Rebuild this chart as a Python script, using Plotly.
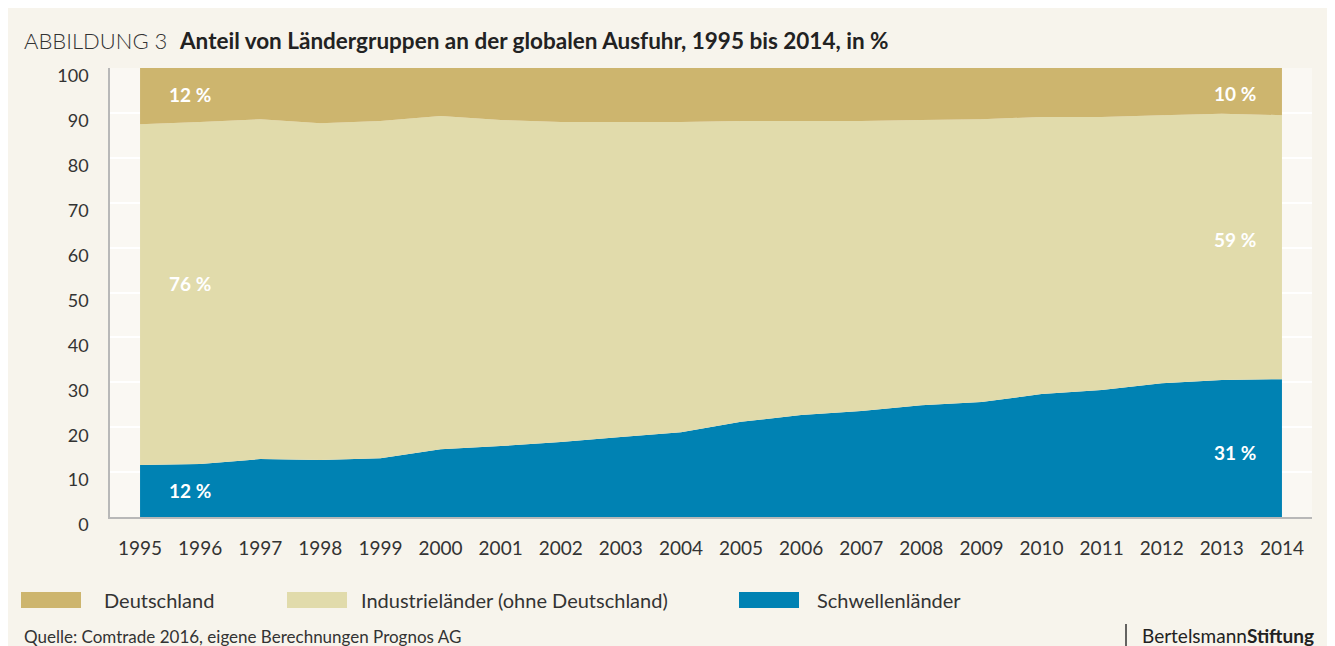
import plotly.graph_objects as go

# Anteil an der globalen Ausfuhr in %
years = list(range(1995, 2015))
schwellen = [11.6, 11.8, 12.9, 12.7, 13.1, 15.1, 15.8, 16.7, 17.8, 18.9,
             21.2, 22.7, 23.6, 24.9, 25.6, 27.4, 28.3, 29.8, 30.5, 30.7]
industrie = [75.9, 76.2, 75.7, 75.0, 75.1, 74.2, 72.6, 71.3, 70.2, 69.1,
             67.0, 65.5, 64.6, 63.5, 63.0, 61.7, 60.8, 59.7, 59.3, 58.8]
deutschland = [12.5, 12.0, 11.4, 12.3, 11.8, 10.7, 11.6, 12.0, 12.0, 12.0,
               11.8, 11.8, 11.8, 11.6, 11.4, 10.9, 10.9, 10.5, 10.2, 10.5]

names = ["Deutschland", "Industrieländer (ohne Deutschland)", "Schwellenländer"]
colors = ["#cdb56e", "#e1dbab", "#0082b3"]

# Beschriftungen an den Rändern
labels_left = ["12 %", "76 %", "12 %"]
labels_right = ["10 %", "59 %", "31 %"]
left_y = [94.2, 51.9, 5.8]
right_y = [94.4, 61.9, 14.3]

W, H = 1335, 646
L, T, R, B = 102, 60, 31, 137
PW, PH = W - L - R, H - T - B


# pixel position in the page (page has 8px body margin) -> paper fraction
def px(x):
    return (x - 8 - L) / PW


def py(y):
    return (H - B - (y - 8)) / PH


fig = go.Figure()
series = [schwellen, industrie, deutschland]
for vals, name, col in zip(series, names[::-1], colors[::-1]):
    fig.add_trace(go.Scatter(
        x=years, y=vals, name=name, stackgroup="one", mode="none",
        fillcolor=col, showlegend=False
    ))

for txt, yy in zip(labels_left, left_y):
    fig.add_annotation(x=1995.45, y=yy, text="<b>" + txt + "</b>", showarrow=False,
                       xanchor="left", font=dict(family="Lato", size=19, color="white"))
for txt, yy in zip(labels_right, right_y):
    fig.add_annotation(x=2013.6, y=yy, text="<b>" + txt + "</b>", showarrow=False,
                       xanchor="right", font=dict(family="Lato", size=19, color="white"))

# title
fig.add_annotation(x=px(22), y=py(40), xref="paper", yref="paper", text="ABBILDUNG 3",
                   showarrow=False, xanchor="left", yanchor="middle",
                   font=dict(family="Lato", size=22, color="#333", weight=300))
fig.add_annotation(x=px(177), y=py(40), xref="paper", yref="paper",
                   text="<b>Anteil von Ländergruppen an der globalen Ausfuhr, 1995 bis 2014, in %</b>",
                   showarrow=False, xanchor="left", yanchor="middle",
                   font=dict(family="Lato", size=22.5, color="#222"))

# manual legend
leg_x = [21, 287, 739]
leg_text_x = [102, 359, 815]
for name, col, lx, tx in zip(names, colors, leg_x, leg_text_x):
    fig.add_shape(type="rect", xref="paper", yref="paper", x0=px(lx), x1=px(lx + 60),
                  y0=py(592), y1=py(608), fillcolor=col, line_width=0)
    fig.add_annotation(x=px(tx), y=py(600), xref="paper", yref="paper", text=name,
                       showarrow=False, xanchor="left", yanchor="middle",
                       font=dict(family="Lato", size=20, color="#333"))

# footer
fig.add_annotation(x=px(22), y=py(636), xref="paper", yref="paper",
                   text="Quelle: Comtrade 2016, eigene Berechnungen Prognos AG",
                   showarrow=False, xanchor="left", yanchor="middle",
                   font=dict(family="Lato", size=17, color="#333"))
fig.add_annotation(x=px(1316), y=py(635), xref="paper", yref="paper",
                   text="Bertelsmann<b>Stiftung</b>",
                   showarrow=False, xanchor="right", yanchor="middle",
                   font=dict(family="Lato", size=19, color="#222"))
fig.add_shape(type="line", xref="paper", yref="paper", x0=px(1126), x1=px(1126),
              y0=py(624), y1=py(646), line=dict(color="#333", width=1.5))

fig.update_xaxes(range=[1994.5, 2014.5], tickvals=years, showgrid=False,
                 showline=True, linecolor="#b8b8b8", linewidth=1.5,
                 tickfont=dict(family="Lato", size=19, color="#333"),
                 ticklabelstandoff=13, zeroline=False)
fig.update_yaxes(range=[0, 100], dtick=10, showgrid=True, gridcolor="white",
                 gridwidth=2, showline=True, linecolor="#b8b8b8", linewidth=1.5,
                 tickfont=dict(family="Lato", size=18, color="#333"),
                 ticklabelstandoff=16, ticklabelshift=8, zeroline=False)
fig.update_layout(
    width=W, height=H,
    margin=dict(l=L, r=R, t=T, b=B),
    paper_bgcolor="#f7f4ec", plot_bgcolor="#faf8f3",
    showlegend=False, hovermode="x unified"
)
fig.write_html("out.html")
